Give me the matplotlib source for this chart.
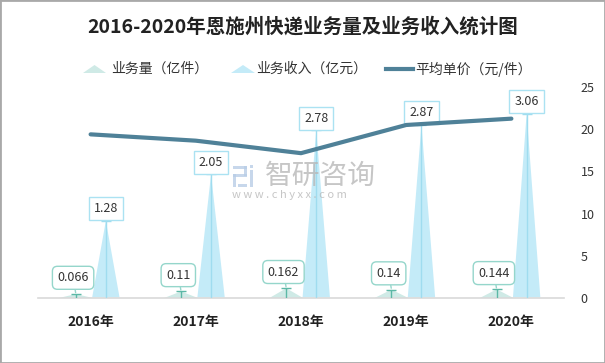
import matplotlib
matplotlib.use('Agg')
import matplotlib.pyplot as plt
from matplotlib.patches import Rectangle

plt.rcParams['font.family'] = ['Noto Sans CJK SC', 'DejaVu Sans']

years = ['2016年', '2017年', '2018年', '2019年', '2020年']
volume = [0.066, 0.11, 0.162, 0.14, 0.144]      # 业务量（亿件）
revenue = [1.28, 2.05, 2.78, 2.87, 3.06]        # 业务收入（亿元）
price = [19.39, 18.64, 17.16, 20.50, 21.25]     # 平均单价（元/件）

c_vol_fill = '#cfeae6'
c_vol_line = '#5cb8a6'
c_vol_edge = '#95d6cb'
c_rev_fill = '#c4ebf8'
c_rev_line = '#9fdcef'
c_rev_edge = '#abe2f2'
c_price = '#4f8198'

fig = plt.figure(figsize=(6.05, 3.63), dpi=100)
fig.patches.append(Rectangle((0, 0), 1, 1, transform=fig.transFigure,
                             fill=False, edgecolor='#a9a9a9', linewidth=2))

ax = fig.add_axes([38 / 605, (363 - 298) / 363, (564 - 38) / 605, (298 - 87) / 363])
ax.set_xlim(-0.5, 4.5)
ax.set_ylim(0, 3.5)
for s in ['left', 'right', 'top']:
    ax.spines[s].set_visible(False)
ax.spines['bottom'].set_color('#d9d9d9')
ax.spines['bottom'].set_linewidth(1.2)
ax.set_yticks([])
ax.set_xticks(range(len(years)))
ax.set_xticklabels(years, fontsize=10, fontweight='bold', color='#222222')
ax.tick_params(axis='x', length=0, pad=12)

w = 0.26
off_v = -0.14
off_r = 0.145
for i in range(len(years)):
    xv = i + off_v
    xr = i + off_r
    # 业务量 spike
    ax.fill([xv - 0.16, xv, xv + 0.16], [0, volume[i], 0], color=c_vol_fill, lw=0, zorder=2)
    ax.vlines(xv, 0, volume[i], color=c_vol_line, lw=1, zorder=3)
    ax.plot([xv], [volume[i]], marker='_', ms=7, mew=1, color=c_vol_line, zorder=3)
    ax.annotate(str(volume[i]), xy=(xv, volume[i]), xytext=(-2, 7), textcoords='offset points',
                ha='center', va='bottom', fontsize=9, color='#333333',
                bbox=dict(boxstyle='round,pad=0.4', fc='white', ec=c_vol_edge, lw=1),
                arrowprops=dict(arrowstyle='-', color=c_vol_edge, lw=1, shrinkA=0, shrinkB=1),
                zorder=5)
    # 业务收入 spike
    ax.fill([xr - w / 2, xr, xr + w / 2], [0.01, revenue[i], 0.01], color=c_rev_fill, lw=0, zorder=2)
    ax.vlines(xr, 0, revenue[i], color=c_rev_line, lw=1, zorder=3)
    ax.plot([xr], [revenue[i]], marker='_', ms=7, mew=1, color=c_rev_line, zorder=3)
    ax.annotate(str(revenue[i]), xy=(xr, revenue[i]), xytext=(0, 4), textcoords='offset points',
                ha='center', va='bottom', fontsize=9, color='#333333',
                bbox=dict(boxstyle='square,pad=0.4', fc='white', ec=c_rev_edge, lw=1),
                zorder=5)

ax2 = ax.twinx()
ax2.set_ylim(0, 25)
ax2.set_yticks([0, 5, 10, 15, 20, 25])
ax2.tick_params(axis='y', length=0, pad=12, labelsize=9, labelcolor='#333333')
for s in ['left', 'right', 'top', 'bottom']:
    ax2.spines[s].set_visible(False)
ax2.plot(range(len(years)), price, color=c_price, lw=3, solid_capstyle='round', zorder=4)

# overlay in pixel coordinates for legend swatches and watermark logo
lax = fig.add_axes([0, 0, 1, 1], facecolor='none')
lax.set_xlim(0, 605)
lax.set_ylim(363, 0)
lax.axis('off')

# watermark
fig.text(0.438, 0.515, '智研咨询', fontsize=20, color='#b8b8b8', alpha=0.8, ha='left', va='center')
fig.text(0.384, 0.463, 'w w w . c h y x x . c o m', fontsize=8, color='#b8b8b8', alpha=0.8,
         ha='left', va='center')
logo_c = '#b9cde6'
lax.add_patch(Rectangle((233, 166), 14, 3, color=logo_c, alpha=0.8, lw=0))
lax.add_patch(Rectangle((244, 166), 3, 10, color=logo_c, alpha=0.8, lw=0))
lax.add_patch(Rectangle((233, 174), 14, 3, color=logo_c, alpha=0.8, lw=0))
lax.add_patch(Rectangle((233, 174), 3, 13, color=logo_c, alpha=0.8, lw=0))
lax.add_patch(Rectangle((238, 184), 9, 3, color=logo_c, alpha=0.8, lw=0))
lax.add_patch(Rectangle((250, 170), 3, 17, color=logo_c, alpha=0.8, lw=0))
lax.add_patch(Rectangle((250, 165), 3, 3, color=logo_c, alpha=0.8, lw=0))

fig.text(0.5, 1 - 27 / 363, '2016-2020年恩施州快递业务量及业务收入统计图', fontsize=14,
         fontweight='bold', ha='center', va='center', color='#222222')

# legend
ly = 1 - 69 / 363
lax.fill([83, 94.5, 106], [73, 65, 73], color=c_vol_fill, lw=0)
lax.fill([231, 243, 255], [73, 65, 73], color=c_rev_fill, lw=0)
lax.plot([386, 413], [69, 69], color=c_price, lw=3)
fig.text(111 / 605, ly, '业务量（亿件）', fontsize=10, color='#333333', va='center')
fig.text(256 / 605, ly, '业务收入（亿元）', fontsize=10, color='#333333', va='center')
fig.text(415 / 605, ly, '平均单价（元/件）', fontsize=10, color='#333333', va='center')

fig.savefig('out.png', dpi=100)
